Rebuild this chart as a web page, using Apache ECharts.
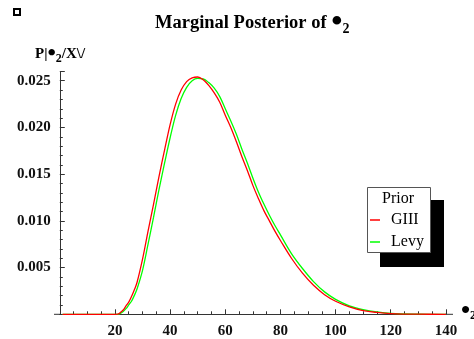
<!DOCTYPE html>
<html>
<head>
<meta charset="utf-8">
<script src="https://cdn.jsdelivr.net/npm/echarts@6/dist/echarts.min.js"></script>
<style>
  html, body { margin: 0; padding: 0; background: #fff; }
  #chart { width: 474px; height: 339px; }
</style>
</head>
<body>
<div id="chart"></div>
<script>
// theta_2 grid and the two marginal posteriors
const theta = [1, 10, 20, 21, 22, 23, 24, 25, 26, 27, 28, 30, 32, 34, 36, 38, 40, 42, 44, 46, 48, 50,
  52, 54, 56, 58, 60, 62, 64, 66, 68, 70, 72, 74, 76, 78, 80, 84, 88, 92, 96, 100, 105, 110, 115, 120, 130, 140];
const giii = [0, 0, 0, 0.00001, 0.0002, 0.00046, 0.0009, 0.0013, 0.0019, 0.0026, 0.0034, 0.0059, 0.0089,
  0.0118, 0.0148, 0.0176, 0.0203, 0.0225, 0.0240, 0.0249, 0.0253, 0.0254,
  0.0251, 0.0245, 0.0237, 0.0227, 0.0213, 0.0200, 0.0185, 0.0169, 0.0154, 0.0138, 0.0124, 0.0111,
  0.0100, 0.0089, 0.0079, 0.0060, 0.0044, 0.0031, 0.0021, 0.0014, 0.0008, 0.0004, 0.0002, 0.00008, 0.00001, 0];
const levy = [0, 0, 0, 0, 0.0001, 0.0003, 0.0006, 0.0010, 0.0014, 0.0020, 0.0027, 0.0047, 0.0075,
  0.0104, 0.0134, 0.0162, 0.0189, 0.0213, 0.0231, 0.0243, 0.0250, 0.02525,
  0.0252, 0.0248, 0.0242, 0.0233, 0.0220, 0.0207, 0.0193, 0.0177, 0.0162, 0.0146, 0.0131, 0.0118,
  0.0106, 0.0095, 0.0085, 0.0065, 0.0049, 0.0035, 0.0024, 0.0016, 0.0009, 0.0005, 0.00025, 0.0001, 0.00002, 0];

// axis ranges and tick steps
const xRange = [0, 140];
const xStep = 20;
const yRange = [0, 0.026];
const yStep = 0.005;

const serif = 'Liberation Serif, Times New Roman, serif';
const axisCol = '#333';

const chart = echarts.init(document.getElementById('chart'), null, { renderer: 'canvas' });

chart.setOption({
  animation: false,
  backgroundColor: '#fff',
  grid: { left: 59.8, right: 28.1, top: 71.4, bottom: 24.7 },
  xAxis: {
    type: 'value', min: xRange[0], max: xRange[1], interval: xStep,
    splitLine: { show: false },
    axisLine: { show: true, onZero: false, lineStyle: { color: axisCol, width: 1 } },
    axisTick: { show: true, inside: true, length: 5, lineStyle: { color: axisCol, width: 1 } },
    minorTick: { show: true, splitNumber: 4, length: 3, lineStyle: { color: axisCol, width: 1 } },
    axisLabel: {
      show: true, margin: 9, showMinLabel: false,
      fontFamily: serif, fontWeight: 'bold', fontSize: 15, color: '#111'
    }
  },
  yAxis: {
    type: 'value', min: yRange[0], max: yRange[1], interval: yStep,
    splitLine: { show: false },
    axisLine: { show: true, onZero: false, lineStyle: { color: axisCol, width: 1 } },
    axisTick: { show: true, inside: true, length: 5, lineStyle: { color: axisCol, width: 1 } },
    minorTick: { show: true, splitNumber: 5, length: 3, lineStyle: { color: axisCol, width: 1 } },
    axisLabel: {
      show: true, margin: 9, showMinLabel: false, showMaxLabel: false,
      formatter: v => v.toFixed(3),
      fontFamily: serif, fontWeight: 'bold', fontSize: 15, color: '#111'
    }
  },
  legend: {
    orient: 'vertical',
    left: 370, top: 212,
    padding: 0, itemGap: 6,
    icon: 'rect', itemWidth: 10, itemHeight: 1.5,
    textStyle: { fontFamily: serif, fontSize: 16, color: '#000', padding: [0, 0, 0, 6] },
    data: ['GIII', 'Levy']
  },
  graphic: [
    // small hollow square top-left
    { type: 'rect', left: 13, top: 8, shape: { width: 6, height: 6 },
      style: { fill: '#fff', stroke: '#000', lineWidth: 2 } },
    // title
    { type: 'text', left: 155, top: 7,
      style: {
        text: '{t|Marginal Posterior of }{b|•}{s|2}',
        rich: {
          t: { fontFamily: serif, fontWeight: 'bold', fontSize: 18.5, fill: '#000' },
          b: { fontFamily: serif, fontWeight: 'bold', fontSize: 32, fill: '#000' },
          s: { fontFamily: serif, fontWeight: 'bold', fontSize: 14, fill: '#000', padding: [12, 0, 0, 0] }
        }
      } },
    // y axis name
    { type: 'text', left: 35, top: 42,
      style: {
        text: '{t|P|}{b|•}{s|2}{t|/X\\/}',
        rich: {
          t: { fontFamily: serif, fontWeight: 'bold', fontSize: 15, fill: '#000' },
          b: { fontFamily: serif, fontWeight: 'bold', fontSize: 24, fill: '#000' },
          s: { fontFamily: serif, fontWeight: 'bold', fontSize: 12, fill: '#000', padding: [9, 0, 0, 0] }
        }
      } },
    // x axis name (cut off at the right edge)
    { type: 'text', left: 461, top: 298,
      style: {
        text: '{b|•}{s|2}',
        rich: {
          b: { fontFamily: serif, fontWeight: 'bold', fontSize: 26, fill: '#000' },
          s: { fontFamily: serif, fontWeight: 'bold', fontSize: 12, fill: '#000', padding: [9, 0, 0, 0] }
        }
      } },
    // x axis overhang on both sides, as in the original
    { type: 'line', shape: { x1: 54, y1: 314.3, x2: 60, y2: 314.3 },
      style: { stroke: axisCol, lineWidth: 1 } },
    { type: 'line', shape: { x1: 445, y1: 314.3, x2: 453, y2: 314.3 },
      style: { stroke: axisCol, lineWidth: 1 } },
    // legend shadow and box
    { type: 'rect', shape: { x: 380, y: 200, width: 64, height: 67 }, style: { fill: '#000' } },
    { type: 'rect', shape: { x: 367.5, y: 187.5, width: 63, height: 65 },
      style: { fill: '#fff', stroke: '#555', lineWidth: 1 } },
    { type: 'text', left: 382, top: 191,
      style: { text: 'Prior', fontFamily: serif, fontSize: 16, fill: '#000' } }
  ],
  series: [
    {
      name: 'GIII', type: 'line', showSymbol: false, smooth: 0.35,
      data: theta.map((t, i) => [t, giii[i]]),
      lineStyle: { color: '#ff0000', width: 1.3 }, itemStyle: { color: '#ff0000' }, z: 3
    },
    {
      name: 'Levy', type: 'line', showSymbol: false, smooth: 0.35,
      data: theta.map((t, i) => [t, levy[i]]),
      lineStyle: { color: '#00ff00', width: 1.3 }, itemStyle: { color: '#00ff00' }, z: 2
    }
  ]
});
</script>
</body>
</html>
